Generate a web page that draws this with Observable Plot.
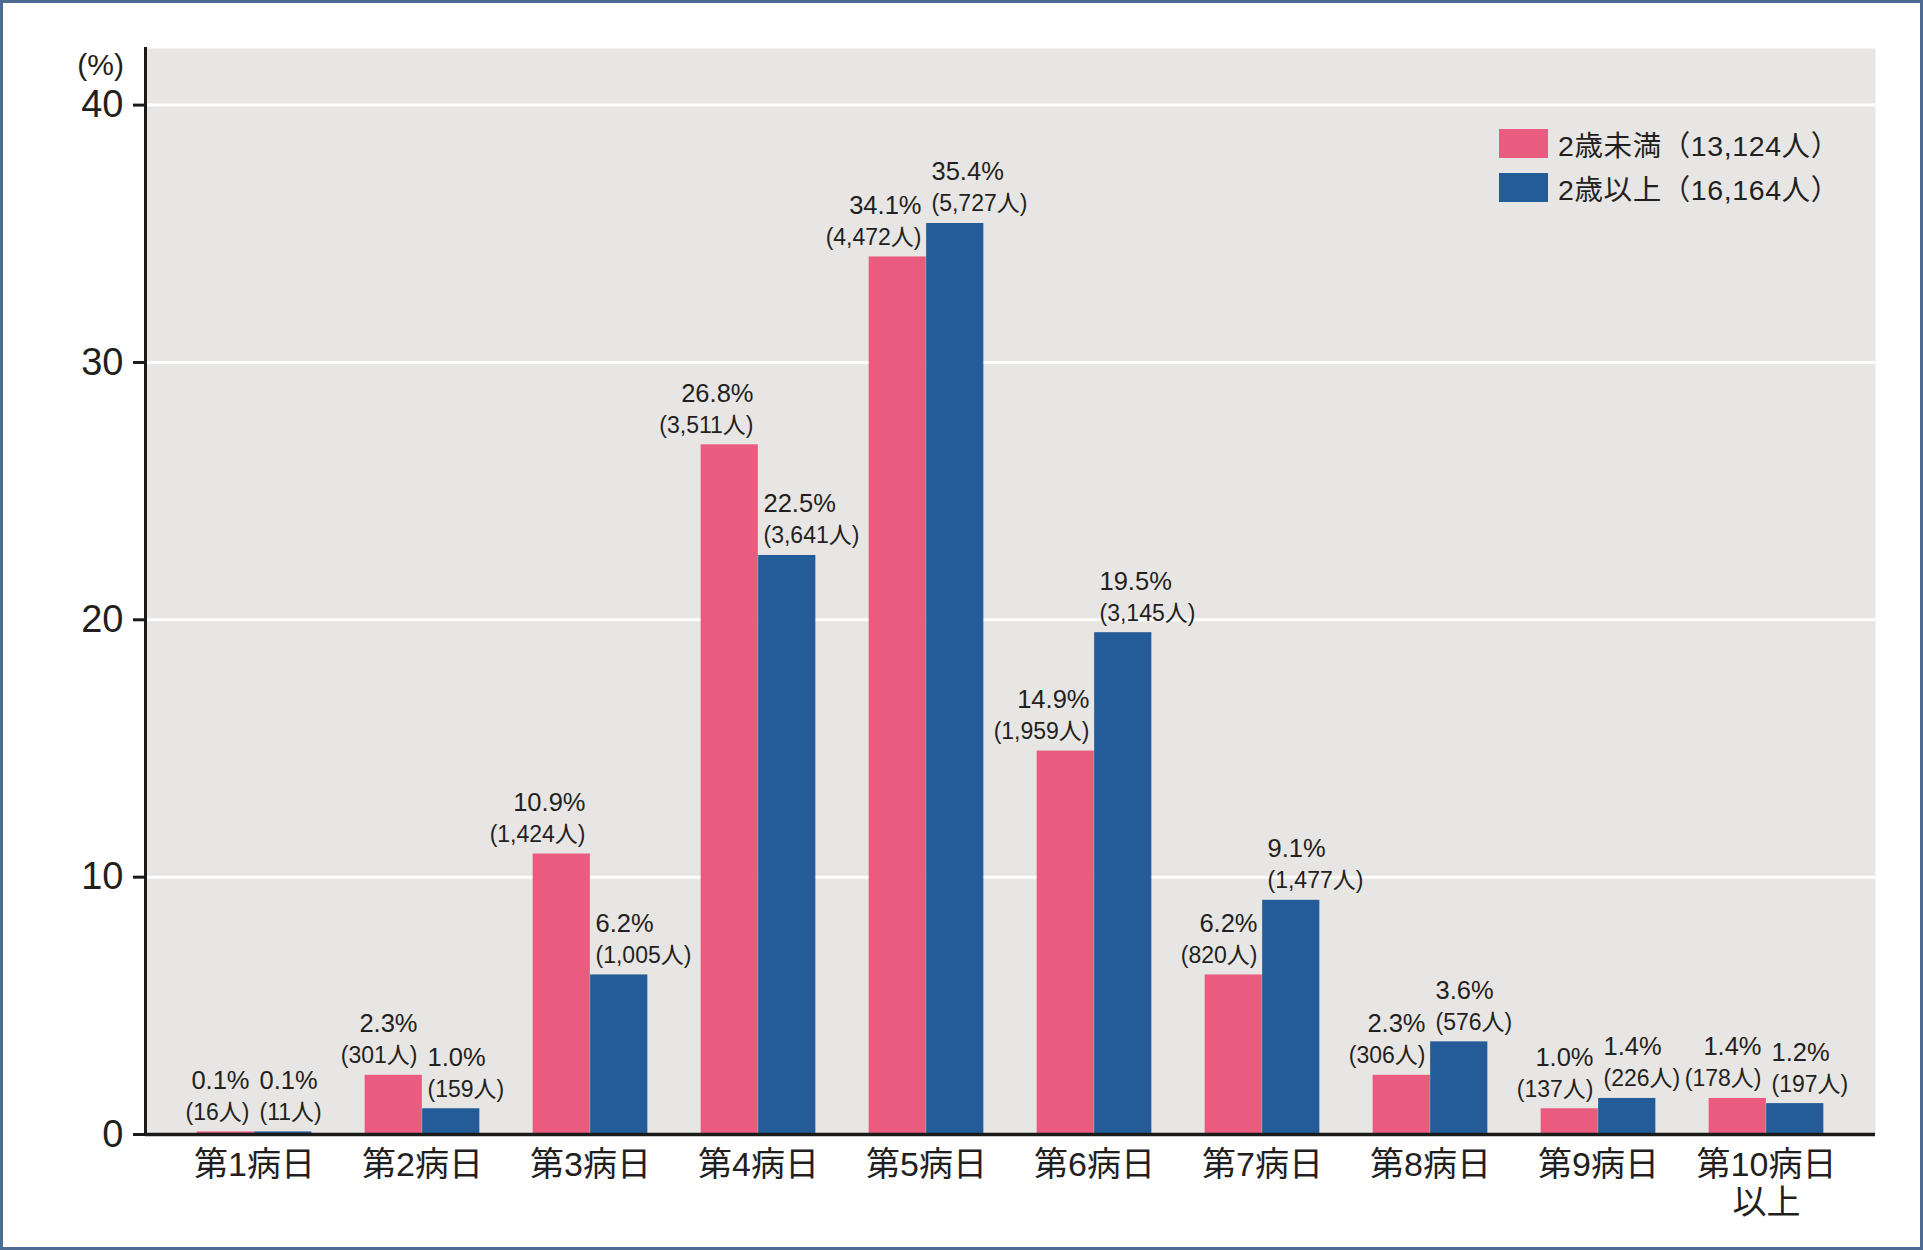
<!DOCTYPE html>
<html><head><meta charset="utf-8">
<script src="https://cdn.jsdelivr.net/npm/d3@7"></script>
<script src="https://cdn.jsdelivr.net/npm/@observablehq/plot@0.6"></script>
<style>
body{margin:0;background:#fff;}
#wrap{position:relative;width:1923px;height:1250px;overflow:hidden;font-family:"Liberation Sans","Noto Sans CJK JP",sans-serif;color:#231f20;}
#border{position:absolute;left:0;top:0;right:0;bottom:0;border:3px solid #4d6a92;pointer-events:none;}
#unit{position:absolute;right:1799px;top:50px;font-size:30px;line-height:1;}
#legend{position:absolute;left:1499px;top:129px;font-size:28.5px;letter-spacing:0.6px;}
.row{display:flex;align-items:center;height:29px;margin-bottom:15px;}
.sw{width:49px;height:29px;margin-right:10px;}
</style></head>
<body><div id="wrap"><div id="chart"></div><div id="unit">(%)</div><div id="legend"></div><div id="border"></div></div>
<script>
const categories = ["第1病日","第2病日","第3病日","第4病日","第5病日","第6病日","第7病日","第8病日","第9病日","第10病日\n以上"];
const seriesNames = ["2歳未満（13,124人）","2歳以上（16,164人）"];
const seriesColors = ["#e95c80","#235c98"];
const under2Pct = [0.1,2.3,10.9,26.8,34.1,14.9,6.2,2.3,1.0,1.4];
const under2Count = [16,301,1424,3511,4472,1959,820,306,137,178];
const over2Pct = [0.1,1.0,6.2,22.5,35.4,19.5,9.1,3.6,1.4,1.2];
const over2Count = [11,159,1005,3641,5727,3145,1477,576,226,197];
const yTicks = [0,10,20,30,40];

const fmt = d3.format(",");
const under = categories.map((c,i)=>({cat:c,pct:under2Pct[i],n:under2Count[i]}));
const over = categories.map((c,i)=>({cat:c,pct:over2Pct[i],n:over2Count[i]}));
const half = 168.3/2, barW = 57.5;
const ink = "#231f20";
const font = "'Liberation Sans','Noto Sans CJK JP',sans-serif";

const chart = Plot.plot({
  width:1923, height:1250,
  marginLeft:145, marginRight:48, marginTop:48, marginBottom:116,
  style:{fontFamily:font, color:ink, background:"transparent", overflow:"visible"},
  x:{domain:categories, padding:0, insetLeft:23.5, insetRight:23.5, label:null},
  y:{domain:[0,42.2], label:null},
  marks:[
    Plot.frame({fill:"#e8e6e4", stroke:null}),
    Plot.gridY(yTicks.filter(d=>d>0), {stroke:"#fff", strokeOpacity:1, strokeWidth:3}),
    Plot.barY(under,{x:"cat", y:"pct", fill:seriesColors[0], insetLeft:half-barW, insetRight:half}),
    Plot.barY(over,{x:"cat", y:"pct", fill:seriesColors[1], insetLeft:half, insetRight:half-barW}),
    Plot.text(under,{x:"cat", y:"pct", text:d=>`(${fmt(d.n)}人)`, textAnchor:"end", dx:-5, dy:-12, lineAnchor:"bottom", fontSize:23, fill:ink}),
    Plot.text(under,{x:"cat", y:"pct", text:d=>`${d.pct.toFixed(1)}%`, textAnchor:"end", dx:-5, dy:-43, lineAnchor:"bottom", fontSize:25.5, fill:ink}),
    Plot.text(over,{x:"cat", y:"pct", text:d=>`(${fmt(d.n)}人)`, textAnchor:"start", dx:5, dy:-12, lineAnchor:"bottom", fontSize:23, fill:ink}),
    Plot.text(over,{x:"cat", y:"pct", text:d=>`${d.pct.toFixed(1)}%`, textAnchor:"start", dx:5, dy:-43, lineAnchor:"bottom", fontSize:25.5, fill:ink}),
    Plot.ruleY([0],{stroke:"#1a1a1a", strokeWidth:3.5}),
    Plot.frame({anchor:"left", stroke:"#1a1a1a", strokeWidth:3}),
    Plot.axisY(yTicks,{tickSize:12, tickPadding:10, fontSize:38, stroke:"#1a1a1a", strokeWidth:3, fill:ink, label:null}),
    Plot.axisX({tickSize:0, tickPadding:14, fontSize:34, lineHeight:1.12, fill:ink, label:null})
  ]
});
document.getElementById("chart").appendChild(chart);

const lg = document.getElementById("legend");
seriesNames.forEach((name,i)=>{
  const row = document.createElement("div"); row.className="row";
  const sw = document.createElement("div"); sw.className="sw"; sw.style.background=seriesColors[i];
  const t = document.createElement("span"); t.textContent=name;
  row.appendChild(sw); row.appendChild(t); lg.appendChild(row);
});
</script></body></html>
